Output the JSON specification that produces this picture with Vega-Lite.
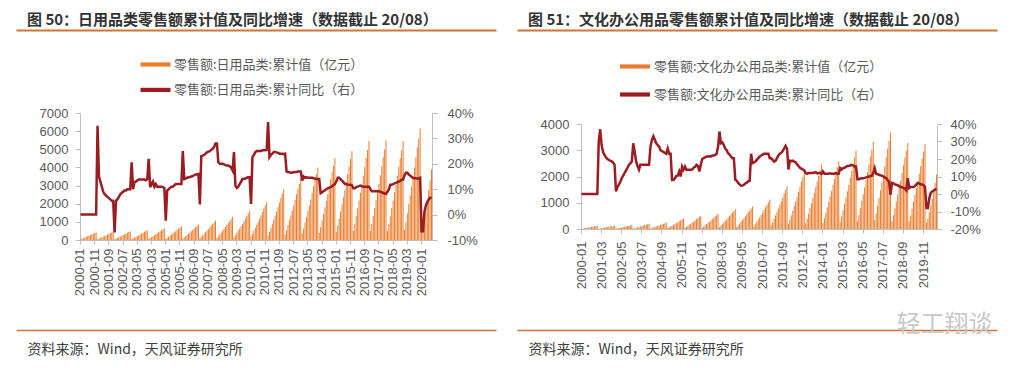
{
"$schema":"https://vega.github.io/schema/vega-lite/v6.json",
"background":"white",
"padding":{"left":16,"top":13,"right":5,"bottom":5},
"config":{"view":{"stroke":null},"font":"Liberation Sans","axis":{"labelFont":"Liberation Sans","labelColor":"#595959","labelFontSize":13,"domainColor":"#bfbfbf","tickColor":"#bfbfbf","grid":false}},
"datasets":{"r":[
{"m":"2000-01","a":38,"ay":0,"b":11,"by":0},{"m":"2000-02","a":67,"ay":0,"b":20,"by":0},{"m":"2000-03","a":101,"ay":0,"b":30,"by":0},{"m":"2000-04","a":134,"ay":0,"b":40,"by":0},{"m":"2000-05","a":168,"ay":0,"b":50,"by":0},{"m":"2000-06","a":202,"ay":0,"b":60,"by":0},{"m":"2000-07","a":235,"ay":0,"b":70,"by":0},{"m":"2000-08","a":273,"ay":0,"b":81,"by":0},{"m":"2000-09","a":311,"ay":0,"b":93,"by":0},{"m":"2000-10","a":349,"ay":0,"b":104,"by":0},{"m":"2000-11","a":382,"ay":0,"b":114,"by":0},{"m":"2000-12","a":420,"ay":0,"b":125,"by":0},
{"m":"2001-01","a":41,"ay":35,"b":12,"by":30},{"m":"2001-02","a":74,"ay":15,"b":21,"by":37},{"m":"2001-03","a":110,"ay":13,"b":31,"by":28},{"m":"2001-04","a":147,"ay":11,"b":42,"by":24},{"m":"2001-05","a":184,"ay":9,"b":52,"by":22.4},{"m":"2001-06","a":221,"ay":8,"b":62,"by":21},{"m":"2001-07","a":258,"ay":7.5,"b":73,"by":20},{"m":"2001-08","a":299,"ay":7,"b":85,"by":19.5},{"m":"2001-09","a":340,"ay":6.5,"b":96,"by":19},{"m":"2001-10","a":382,"ay":6,"b":108,"by":18.6},{"m":"2001-11","a":419,"ay":5.5,"b":118,"by":18},{"m":"2001-12","a":460,"ay":5.5,"b":130,"by":16.7},
{"m":"2002-01","a":43,"ay":-7,"b":14,"by":1.5},{"m":"2002-02","a":77,"ay":5.5,"b":24,"by":4},{"m":"2002-03","a":115,"ay":6,"b":36,"by":5.3},{"m":"2002-04","a":154,"ay":7,"b":48,"by":7},{"m":"2002-05","a":192,"ay":8,"b":60,"by":9},{"m":"2002-06","a":230,"ay":8.5,"b":72,"by":10.5},{"m":"2002-07","a":269,"ay":9,"b":84,"by":12},{"m":"2002-08","a":312,"ay":9.5,"b":98,"by":13.5},{"m":"2002-09","a":355,"ay":9.5,"b":111,"by":15},{"m":"2002-10","a":398,"ay":10,"b":125,"by":16.7},{"m":"2002-11","a":437,"ay":10,"b":137,"by":17.5},{"m":"2002-12","a":480,"ay":10,"b":150,"by":18.6},
{"m":"2003-01","a":49,"ay":20.6,"b":18,"by":29},{"m":"2003-02","a":86,"ay":10,"b":32,"by":24},{"m":"2003-03","a":130,"ay":12.8,"b":48,"by":18.6},{"m":"2003-04","a":173,"ay":13,"b":64,"by":16},{"m":"2003-05","a":216,"ay":13.5,"b":80,"by":13.9},{"m":"2003-06","a":259,"ay":13.8,"b":96,"by":16.7},{"m":"2003-07","a":302,"ay":13.8,"b":112,"by":16.7},{"m":"2003-08","a":351,"ay":13.8,"b":130,"by":16.7},{"m":"2003-09","a":400,"ay":13.8,"b":148,"by":16.7},{"m":"2003-10","a":448,"ay":13.8,"b":166,"by":16.7},{"m":"2003-11","a":491,"ay":13.5,"b":182,"by":16.7},{"m":"2003-12","a":540,"ay":14,"b":200,"by":16.7},
{"m":"2004-01","a":59,"ay":22,"b":22,"by":27},{"m":"2004-02","a":104,"ay":10.8,"b":38,"by":31},{"m":"2004-03","a":156,"ay":12,"b":58,"by":33},{"m":"2004-04","a":208,"ay":13,"b":77,"by":31},{"m":"2004-05","a":260,"ay":11,"b":96,"by":29},{"m":"2004-06","a":312,"ay":12,"b":115,"by":28},{"m":"2004-07","a":364,"ay":11,"b":134,"by":27},{"m":"2004-08","a":423,"ay":11,"b":156,"by":25},{"m":"2004-09","a":481,"ay":11,"b":178,"by":24.5},{"m":"2004-10","a":540,"ay":11,"b":199,"by":24},{"m":"2004-11","a":592,"ay":10.8,"b":218,"by":23.5},{"m":"2004-12","a":650,"ay":10.5,"b":240,"by":23},
{"m":"2005-01","a":68,"ay":-2.4,"b":36,"by":26},{"m":"2005-02","a":122,"ay":9.5,"b":64,"by":23},{"m":"2005-03","a":182,"ay":10,"b":96,"by":23},{"m":"2005-04","a":243,"ay":10.5,"b":128,"by":8},{"m":"2005-05","a":304,"ay":11,"b":160,"by":8},{"m":"2005-06","a":365,"ay":11,"b":192,"by":9},{"m":"2005-07","a":426,"ay":11.5,"b":224,"by":10.4},{"m":"2005-08","a":494,"ay":12,"b":260,"by":10.5},{"m":"2005-09","a":562,"ay":12,"b":296,"by":12.9},{"m":"2005-10","a":631,"ay":12,"b":332,"by":10},{"m":"2005-11","a":692,"ay":12,"b":364,"by":15.7},{"m":"2005-12","a":760,"ay":12,"b":400,"by":13.9},
{"m":"2006-01","a":77,"ay":25,"b":45,"by":15.7},{"m":"2006-02","a":138,"ay":14,"b":80,"by":13.9},{"m":"2006-03","a":206,"ay":14.2,"b":120,"by":13.9},{"m":"2006-04","a":275,"ay":14.5,"b":160,"by":13.9},{"m":"2006-05","a":344,"ay":14.7,"b":200,"by":13.9},{"m":"2006-06","a":413,"ay":14.8,"b":240,"by":14},{"m":"2006-07","a":482,"ay":15,"b":280,"by":15},{"m":"2006-08","a":559,"ay":15.2,"b":325,"by":15.5},{"m":"2006-09","a":636,"ay":15.5,"b":370,"by":16.7},{"m":"2006-10","a":714,"ay":15.8,"b":415,"by":16},{"m":"2006-11","a":783,"ay":15.8,"b":455,"by":12.9},{"m":"2006-12","a":860,"ay":16,"b":500,"by":16.7},
{"m":"2007-01","a":97,"ay":4,"b":52,"by":20},{"m":"2007-02","a":173,"ay":23,"b":93,"by":20.5},{"m":"2007-03","a":259,"ay":23.2,"b":139,"by":21},{"m":"2007-04","a":346,"ay":23.5,"b":186,"by":21.4},{"m":"2007-05","a":432,"ay":24,"b":232,"by":21.4},{"m":"2007-06","a":518,"ay":24.5,"b":278,"by":21.5},{"m":"2007-07","a":605,"ay":24.8,"b":325,"by":21.4},{"m":"2007-08","a":702,"ay":25,"b":377,"by":22},{"m":"2007-09","a":799,"ay":25.5,"b":429,"by":22},{"m":"2007-10","a":896,"ay":26,"b":481,"by":22.4},{"m":"2007-11","a":983,"ay":26.6,"b":528,"by":23},{"m":"2007-12","a":1080,"ay":28,"b":580,"by":27},
{"m":"2008-01","a":114,"ay":28,"b":68,"by":35.7},{"m":"2008-02","a":203,"ay":20.6,"b":122,"by":29},{"m":"2008-03","a":305,"ay":20,"b":182,"by":29.5},{"m":"2008-04","a":406,"ay":20,"b":243,"by":28},{"m":"2008-05","a":508,"ay":20,"b":304,"by":26},{"m":"2008-06","a":610,"ay":19.8,"b":365,"by":25},{"m":"2008-07","a":711,"ay":19.5,"b":426,"by":23.3},{"m":"2008-08","a":826,"ay":19.3,"b":494,"by":22.5},{"m":"2008-09","a":940,"ay":19.3,"b":562,"by":21.4},{"m":"2008-10","a":1054,"ay":19,"b":631,"by":20.5},{"m":"2008-11","a":1156,"ay":18.5,"b":692,"by":20.5},{"m":"2008-12","a":1270,"ay":17.4,"b":760,"by":8.2},
{"m":"2009-01","a":144,"ay":24.6,"b":77,"by":7.5},{"m":"2009-02","a":256,"ay":11.4,"b":138,"by":6.3},{"m":"2009-03","a":384,"ay":10.5,"b":206,"by":5.5},{"m":"2009-04","a":512,"ay":11,"b":275,"by":4.7},{"m":"2009-05","a":640,"ay":12,"b":344,"by":4.8},{"m":"2009-06","a":768,"ay":13,"b":413,"by":5.3},{"m":"2009-07","a":896,"ay":14,"b":482,"by":6},{"m":"2009-08","a":1040,"ay":14,"b":559,"by":6.5},{"m":"2009-09","a":1184,"ay":14.2,"b":636,"by":7.2},{"m":"2009-10","a":1328,"ay":14.5,"b":714,"by":7.5},{"m":"2009-11","a":1456,"ay":14.7,"b":783,"by":23},{"m":"2009-12","a":1600,"ay":14.7,"b":860,"by":17.6},
{"m":"2010-01","a":189,"ay":4.2,"b":101,"by":18},{"m":"2010-02","a":336,"ay":22.6,"b":179,"by":18.5},{"m":"2010-03","a":504,"ay":23.5,"b":269,"by":19.5},{"m":"2010-04","a":672,"ay":24.5,"b":358,"by":20.5},{"m":"2010-05","a":840,"ay":25,"b":448,"by":21.4},{"m":"2010-06","a":1008,"ay":25,"b":538,"by":22},{"m":"2010-07","a":1176,"ay":25,"b":627,"by":22.5},{"m":"2010-08","a":1365,"ay":25,"b":728,"by":23},{"m":"2010-09","a":1554,"ay":25.3,"b":829,"by":23},{"m":"2010-10","a":1743,"ay":25.3,"b":930,"by":23},{"m":"2010-11","a":1911,"ay":25.3,"b":1019,"by":23},{"m":"2010-12","a":2100,"ay":25.5,"b":1120,"by":20.5},
{"m":"2011-01","a":252,"ay":36.4,"b":147,"by":20.5},{"m":"2011-02","a":448,"ay":22.6,"b":261,"by":19.5},{"m":"2011-03","a":672,"ay":23.5,"b":391,"by":18.5},{"m":"2011-04","a":896,"ay":24,"b":522,"by":19},{"m":"2011-05","a":1120,"ay":24.6,"b":652,"by":20.5},{"m":"2011-06","a":1344,"ay":24.6,"b":782,"by":22},{"m":"2011-07","a":1568,"ay":24.5,"b":913,"by":23},{"m":"2011-08","a":1820,"ay":24.3,"b":1060,"by":23.5},{"m":"2011-09","a":2072,"ay":24,"b":1206,"by":24.5},{"m":"2011-10","a":2324,"ay":24,"b":1353,"by":26},{"m":"2011-11","a":2548,"ay":24,"b":1483,"by":27.5},{"m":"2011-12","a":2800,"ay":23.8,"b":1630,"by":26},
{"m":"2012-01","a":306,"ay":24,"b":196,"by":14},{"m":"2012-02","a":544,"ay":17,"b":349,"by":19},{"m":"2012-03","a":816,"ay":16.7,"b":523,"by":18.7},{"m":"2012-04","a":1088,"ay":16.7,"b":698,"by":19},{"m":"2012-05","a":1360,"ay":16.5,"b":872,"by":18.5},{"m":"2012-06","a":1632,"ay":16.5,"b":1046,"by":18},{"m":"2012-07","a":1904,"ay":16.7,"b":1221,"by":17},{"m":"2012-08","a":2210,"ay":16.8,"b":1417,"by":16},{"m":"2012-09","a":2516,"ay":16.8,"b":1613,"by":15},{"m":"2012-10","a":2822,"ay":17,"b":1809,"by":14.5},{"m":"2012-11","a":3094,"ay":17,"b":1984,"by":14},{"m":"2012-12","a":3400,"ay":17,"b":2180,"by":13.5},
{"m":"2013-01","a":360,"ay":13.4,"b":221,"by":12},{"m":"2013-02","a":640,"ay":15,"b":394,"by":11.5},{"m":"2013-03","a":960,"ay":14.5,"b":590,"by":12},{"m":"2013-04","a":1280,"ay":14.7,"b":787,"by":12},{"m":"2013-05","a":1600,"ay":14.5,"b":984,"by":12},{"m":"2013-06","a":1920,"ay":14.5,"b":1181,"by":12},{"m":"2013-07","a":2240,"ay":14.5,"b":1378,"by":12.3},{"m":"2013-08","a":2600,"ay":14.5,"b":1599,"by":12.4},{"m":"2013-09","a":2960,"ay":14.3,"b":1820,"by":11.8},{"m":"2013-10","a":3320,"ay":14.2,"b":2042,"by":12},{"m":"2013-11","a":3640,"ay":14,"b":2239,"by":12},{"m":"2013-12","a":4000,"ay":14,"b":2460,"by":11.5},
{"m":"2014-01","a":405,"ay":14,"b":232,"by":12.9},{"m":"2014-02","a":720,"ay":8.4,"b":413,"by":11.6},{"m":"2014-03","a":1080,"ay":8.8,"b":619,"by":11.6},{"m":"2014-04","a":1440,"ay":9.2,"b":826,"by":11.6},{"m":"2014-05","a":1800,"ay":9.6,"b":1032,"by":11.6},{"m":"2014-06","a":2160,"ay":10,"b":1238,"by":11.8},{"m":"2014-07","a":2520,"ay":10.3,"b":1445,"by":11.6},{"m":"2014-08","a":2925,"ay":10.6,"b":1677,"by":11.6},{"m":"2014-09","a":3330,"ay":10.8,"b":1909,"by":11.6},{"m":"2014-10","a":3735,"ay":11.2,"b":2141,"by":12},{"m":"2014-11","a":4095,"ay":11.6,"b":2348,"by":11.5},{"m":"2014-12","a":4500,"ay":12,"b":2580,"by":11.6},
{"m":"2015-01","a":441,"ay":13,"b":269,"by":14.8},{"m":"2015-02","a":784,"ay":14.5,"b":478,"by":14},{"m":"2015-03","a":1176,"ay":14.5,"b":718,"by":14.8},{"m":"2015-04","a":1568,"ay":14,"b":957,"by":15},{"m":"2015-05","a":1960,"ay":13.4,"b":1196,"by":15.5},{"m":"2015-06","a":2352,"ay":12.8,"b":1435,"by":16},{"m":"2015-07","a":2744,"ay":12,"b":1674,"by":16.1},{"m":"2015-08","a":3185,"ay":12,"b":1944,"by":16.3},{"m":"2015-09","a":3626,"ay":11.8,"b":2213,"by":16.7},{"m":"2015-10","a":4067,"ay":11.8,"b":2482,"by":16.3},{"m":"2015-11","a":4459,"ay":11.8,"b":2721,"by":15.7},{"m":"2015-12","a":4900,"ay":11.6,"b":2990,"by":15.7},
{"m":"2016-01","a":491,"ay":10.4,"b":299,"by":8.5},{"m":"2016-02","a":872,"ay":10.4,"b":531,"by":8.5},{"m":"2016-03","a":1308,"ay":10.8,"b":797,"by":8.8},{"m":"2016-04","a":1744,"ay":11,"b":1062,"by":9},{"m":"2016-05","a":2180,"ay":11.2,"b":1328,"by":9},{"m":"2016-06","a":2616,"ay":11.4,"b":1594,"by":9.2},{"m":"2016-07","a":3052,"ay":11.2,"b":1859,"by":9.5},{"m":"2016-08","a":3543,"ay":11,"b":2158,"by":9.7},{"m":"2016-09","a":4033,"ay":11,"b":2457,"by":10},{"m":"2016-10","a":4524,"ay":11,"b":2756,"by":10.2},{"m":"2016-11","a":4960,"ay":11,"b":3021,"by":10.4},{"m":"2016-12","a":5450,"ay":11,"b":3320,"by":12},
{"m":"2017-01","a":495,"ay":10,"b":331,"by":14.8},{"m":"2017-02","a":880,"ay":9.2,"b":589,"by":11.6},{"m":"2017-03","a":1320,"ay":9.2,"b":883,"by":11.3},{"m":"2017-04","a":1760,"ay":9.2,"b":1178,"by":11},{"m":"2017-05","a":2200,"ay":9.2,"b":1472,"by":10.7},{"m":"2017-06","a":2640,"ay":9.2,"b":1766,"by":10.5},{"m":"2017-07","a":3080,"ay":9.2,"b":2061,"by":10},{"m":"2017-08","a":3575,"ay":9,"b":2392,"by":9.5},{"m":"2017-09","a":4070,"ay":8.8,"b":2723,"by":9},{"m":"2017-10","a":4565,"ay":8.5,"b":3054,"by":8},{"m":"2017-11","a":5005,"ay":8.3,"b":3349,"by":7},{"m":"2017-12","a":5500,"ay":8.2,"b":3680,"by":-0.5},
{"m":"2018-01","a":491,"ay":9,"b":295,"by":6.3},{"m":"2018-02","a":872,"ay":10,"b":525,"by":6},{"m":"2018-03","a":1308,"ay":11.8,"b":787,"by":5.5},{"m":"2018-04","a":1744,"ay":11.8,"b":1050,"by":5.3},{"m":"2018-05","a":2180,"ay":12,"b":1312,"by":5},{"m":"2018-06","a":2616,"ay":12.3,"b":1574,"by":4.5},{"m":"2018-07","a":3052,"ay":12.5,"b":1837,"by":4},{"m":"2018-08","a":3543,"ay":12.8,"b":2132,"by":3.8},{"m":"2018-09","a":4033,"ay":13,"b":2427,"by":3.5},{"m":"2018-10","a":4524,"ay":13.3,"b":2722,"by":3},{"m":"2018-11","a":4960,"ay":13.7,"b":2985,"by":2},{"m":"2018-12","a":5450,"ay":13.8,"b":3280,"by":9},
{"m":"2019-01","a":554,"ay":15.5,"b":292,"by":3.4},{"m":"2019-02","a":984,"ay":16.5,"b":518,"by":4},{"m":"2019-03","a":1476,"ay":16.5,"b":778,"by":4},{"m":"2019-04","a":1968,"ay":15.8,"b":1037,"by":4},{"m":"2019-05","a":2460,"ay":15.4,"b":1296,"by":4.5},{"m":"2019-06","a":2952,"ay":14.8,"b":1555,"by":5.5},{"m":"2019-07","a":3444,"ay":14.5,"b":1814,"by":6.3},{"m":"2019-08","a":3998,"ay":14.3,"b":2106,"by":6},{"m":"2019-09","a":4551,"ay":14.3,"b":2398,"by":5.5},{"m":"2019-10","a":5105,"ay":14.2,"b":2689,"by":5.5},{"m":"2019-11","a":5597,"ay":14.2,"b":2948,"by":5},{"m":"2019-12","a":6150,"ay":14.5,"b":3240,"by":4},
{"m":"2020-01","a":450,"ay":-6.6,"b":250,"by":-8},{"m":"2020-02","a":700,"ay":-6.6,"b":400,"by":-8},{"m":"2020-03","a":1150,"ay":1,"b":650,"by":-2.3},{"m":"2020-04","a":1650,"ay":3.5,"b":900,"by":0.6},{"m":"2020-05","a":2200,"ay":4.9,"b":1150,"by":1.5},{"m":"2020-06","a":2750,"ay":6,"b":1450,"by":2},{"m":"2020-07","a":3300,"ay":6.6,"b":1750,"by":2.5},{"m":"2020-08","a":3900,"ay":6.6,"b":2080,"by":3}
]},
"spacing":21,
"resolve":{"scale":{"x":"independent","y":"independent","color":"independent"},"legend":{"color":"independent"}},
"hconcat":[
{"spacing":24,
 "resolve":{"scale":{"x":"independent","y":"independent","color":"independent"},"legend":{"color":"independent"}},
 "vconcat":[
 {"width":480,"height":4,"data":{"values":[{"t":0}]},"mark":{"type":"point","opacity":0,"size":0},
  "encoding":{"x":{"field":"t","type":"quantitative","scale":{"domain":[-1,1]},"axis":{"orient":"top","domainColor":"#d4733a","domainWidth":2,"ticks":false,"labels":false,"title":null}}},
  "title":{"text":"图 50：日用品类零售额累计值及同比增速（数据截止 20/08）","anchor":"start","dx":11,"offset":2,"fontSize":15,"fontWeight":"bold","font":"Noto Sans CJK SC","color":"#333333"}},
 {"spacing":18,
  "resolve":{"scale":{"x":"independent","y":"independent","color":"independent"},"legend":{"color":"independent"}},
  "hconcat":[
  {"width":1,"height":1,"data":{"values":[{"t":0}]},"mark":{"type":"point","opacity":0,"size":0}},
  {"width":352,"height":127,"data":{"name":"r"},
   "layer":[
    {"mark":{"type":"bar"},
     "encoding":{
      "x":{"field":"m","type":"ordinal","scale":{"paddingInner":0.3,"paddingOuter":0},"axis":{"values":["2000-01","2000-11","2001-09","2002-07","2003-05","2004-03","2005-01","2005-11","2006-09","2007-07","2008-05","2009-03","2010-01","2010-11","2011-09","2012-07","2013-05","2014-03","2015-01","2015-11","2016-09","2017-07","2018-05","2019-03","2020-01"],"labelAngle":-90,"labelOverlap":false,"title":null,"tickSize":4,"labelPadding":4,"minExtent":56}},
      "y":{"field":"a","type":"quantitative","scale":{"domain":[0,7000],"nice":false},"axis":{"orient":"left","values":[0,1000,2000,3000,4000,5000,6000,7000],"format":"d","title":null,"tickSize":5,"labelPadding":7,"minExtent":45}},
      "color":{"datum":"零售额:日用品类:累计值（亿元）","type":"nominal","scale":{"domain":["零售额:日用品类:累计值（亿元）","零售额:日用品类:累计同比（右）"],"range":["#ea7d2e","#9b1d22"]},
       "legend":{"orient":"none","legendX":69,"legendY":-55,"direction":"vertical","title":null,"symbolType":"M-2.5,-0.35H2.5V0.35H-2.5Z","symbolSize":144,"symbolStrokeWidth":0,"labelFont":"Noto Sans CJK SC","labelFontSize":13,"labelColor":"#595959","labelOffset":12,"labelLimit":400,"rowPadding":11.4,"padding":0}}}},
    {"mark":{"type":"line","strokeWidth":2.5},
     "encoding":{
      "x":{"field":"m","type":"ordinal"},
      "y":{"field":"ay","type":"quantitative","scale":{"domain":[-10,40],"nice":false},"axis":{"orient":"right","values":[-10,0,10,20,30,40],"labelExpr":"datum.value + '%'","title":null,"tickSize":5,"labelPadding":10}},
      "color":{"datum":"零售额:日用品类:累计同比（右）","type":"nominal"}}}
   ],
   "resolve":{"scale":{"y":"independent"}}}
  ]},
 {"width":480,"height":10,"data":{"values":[{"t":0}]},"mark":{"type":"point","opacity":0,"size":0},
  "encoding":{"x":{"field":"t","type":"quantitative","scale":{"domain":[-1,1]},"axis":{"orient":"bottom","domainColor":"#d4733a","domainWidth":1.5,"ticks":false,"labels":false,"title":"资料来源：Wind，天风证券研究所","titleAnchor":"start","titleAlign":"left","titleBaseline":"middle","titleX":11,"titleY":19,"titleFont":"Noto Sans CJK SC","titleFontSize":14,"titleFontWeight":"normal","titleColor":"#404040"}}}}
 ]},
{"spacing":22,
 "resolve":{"scale":{"x":"independent","y":"independent","color":"independent"},"legend":{"color":"independent"}},
 "vconcat":[
 {"width":480,"height":8,"data":{"values":[{"t":0}]},"mark":{"type":"point","opacity":0,"size":0},
  "encoding":{"x":{"field":"t","type":"quantitative","scale":{"domain":[-1,1]},"axis":{"orient":"top","domainColor":"#d4733a","domainWidth":2,"ticks":false,"labels":false,"title":null}}},
  "title":{"text":"图 51：文化办公用品零售额累计值及同比增速（数据截止 20/08）","anchor":"start","dx":11,"offset":2,"fontSize":15,"fontWeight":"bold","font":"Noto Sans CJK SC","color":"#333333"}},
 {"spacing":18,
  "resolve":{"scale":{"x":"independent","y":"independent","color":"independent"},"legend":{"color":"independent"}},
  "hconcat":[
  {"width":1,"height":1,"data":{"values":[{"t":0}]},"mark":{"type":"point","opacity":0,"size":0}},
  {"width":356,"height":105,"data":{"name":"r"},
   "layer":[
    {"mark":{"type":"bar"},
     "encoding":{
      "x":{"field":"m","type":"ordinal","scale":{"paddingInner":0.3,"paddingOuter":0},"axis":{"values":["2000-01","2001-03","2002-05","2003-07","2004-09","2005-11","2007-01","2008-03","2009-05","2010-07","2011-09","2012-11","2014-01","2015-03","2016-05","2017-07","2018-09","2019-11"],"labelAngle":-90,"labelOverlap":false,"title":null,"tickSize":4,"labelPadding":8,"minExtent":61}},
      "y":{"field":"b","type":"quantitative","scale":{"domain":[0,4000],"nice":false},"axis":{"orient":"left","values":[0,1000,2000,3000,4000],"format":"d","title":null,"tickSize":5,"labelPadding":7,"minExtent":45}},
      "color":{"datum":"零售额:文化办公用品类:累计值（亿元）","type":"nominal","scale":{"domain":["零售额:文化办公用品类:累计值（亿元）","零售额:文化办公用品类:累计同比（右）"],"range":["#ea7d2e","#9b1d22"]},
       "legend":{"orient":"none","legendX":47.5,"legendY":-64,"direction":"vertical","title":null,"symbolType":"M-2.5,-0.35H2.5V0.35H-2.5Z","symbolSize":144,"symbolStrokeWidth":0,"labelFont":"Noto Sans CJK SC","labelFontSize":13,"labelColor":"#595959","labelOffset":12.5,"labelLimit":400,"rowPadding":14,"padding":0}}}},
    {"mark":{"type":"line","strokeWidth":2.5},
     "encoding":{
      "x":{"field":"m","type":"ordinal"},
      "y":{"field":"by","type":"quantitative","scale":{"domain":[-20,40],"nice":false},"axis":{"orient":"right","values":[-20,-10,0,10,20,30,40],"labelExpr":"datum.value + '%'","title":null,"tickSize":5,"labelPadding":8}},
      "color":{"datum":"零售额:文化办公用品类:累计同比（右）","type":"nominal"}}}
   ],
   "resolve":{"scale":{"y":"independent"}}}
  ]},
 {"width":480,"height":11,"data":{"values":[{"t":0}]},"mark":{"type":"point","opacity":0,"size":0},
  "encoding":{
   "x":{"field":"t","type":"quantitative","scale":{"domain":[-1,1]},"axis":{"orient":"bottom","domainColor":"#d4733a","domainWidth":1.5,"ticks":false,"labels":false,"title":"资料来源：Wind，天风证券研究所","titleAnchor":"start","titleAlign":"left","titleBaseline":"middle","titleX":11,"titleY":19,"titleFont":"Noto Sans CJK SC","titleFontSize":14,"titleFontWeight":"normal","titleColor":"#404040"}},
   "y":{"field":"t","type":"quantitative","scale":{"domain":[-1,1]},"axis":{"orient":"left","domain":false,"ticks":false,"labels":false,"grid":false,"minExtent":0,"maxExtent":0,"title":"轻工翔谈","titleAngle":0,"titleX":475,"titleY":-7,"titleAlign":"right","titleBaseline":"top","titleFont":"Noto Sans CJK SC","titleFontSize":24,"titleFontWeight":"normal","titleColor":"#c8c8c8"}}}}
 ]}
]
}
